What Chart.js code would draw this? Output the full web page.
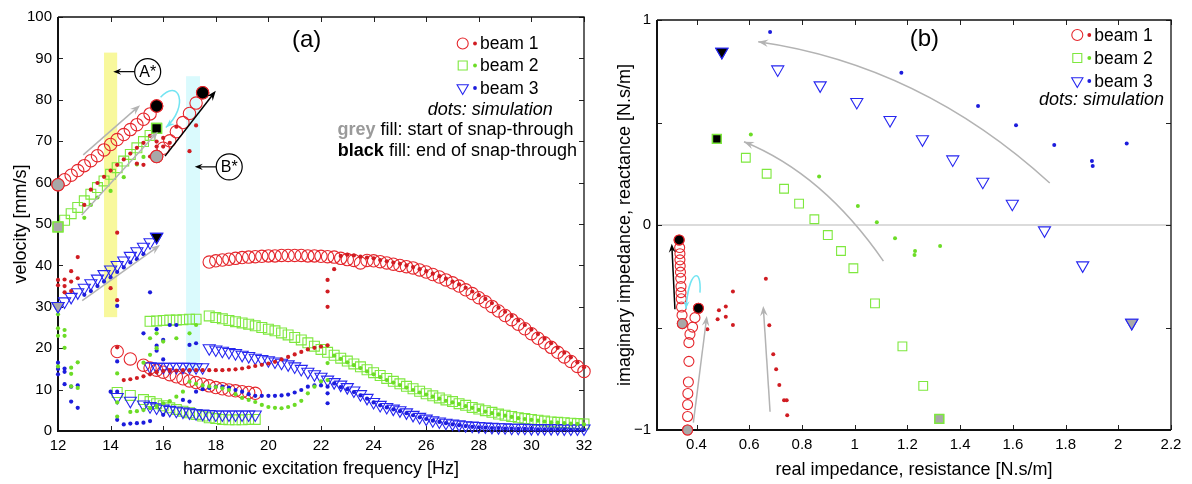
<!DOCTYPE html>
<html>
<head>
<meta charset="utf-8">
<script src="https://cdn.jsdelivr.net/npm/chart.js@4.4.1/dist/chart.umd.min.js"></script>
<style>
  body { margin: 0; background: #fff; }
  #wrap { position: relative; width: 1192px; height: 484px; }
  canvas { position: absolute; top: 0; }
</style>
</head>
<body>
<div id="wrap">
  <canvas id="chartA" width="600" height="484" style="left:0"></canvas>
  <canvas id="chartB" width="592" height="484" style="left:600px"></canvas>
</div>
<script>
// ---------- panel (a): velocity vs frequency ----------
const xTicksA = [12, 14, 16, 18, 20, 22, 24, 26, 28, 30, 32];
const yTicksA = [0, 10, 20, 30, 40, 50, 60, 70, 80, 90, 100];

// beam 1, measured (open circles)
const b1Freq = [12, 12.25, 12.5, 12.75, 13, 13.25, 13.5, 13.75, 14, 14.25, 14.5, 14.75, 15, 15.25, 15.5, 15.75,
  15.75, 16, 16.25, 16.5, 16.75, 17, 17.25, 17.5,
  14.25, 14.75, 15.25, 15.5, 15.75, 16, 16.25, 16.5, 16.75, 17, 17.25, 17.5, 17.75, 18, 18.25, 18.5, 18.75, 19, 19.25, 19.5,
  17.75, 18, 18.25, 18.5, 18.75, 19, 19.25, 19.5, 19.75, 20, 20.25, 20.5, 20.75, 21, 21.25, 21.5, 21.75, 22, 22.25, 22.5,
  22.75, 23, 23.25, 23.5, 23.75, 24, 24.25, 24.5, 24.75, 25, 25.25, 25.5, 25.75, 26, 26.25, 26.5, 26.75, 27,
  27.25, 27.5, 27.75, 28, 28.25, 28.5, 28.75, 29, 29.25, 29.5, 29.75, 30, 30.25, 30.5, 30.75, 31, 31.25, 31.5, 31.75, 32];
const b1Vel = [59.5, 60.7, 61.8, 62.9, 64.1, 65.3, 66.5, 67.9, 69.2, 70.4, 71.6, 72.8, 74.0, 75.3, 76.6, 78.5,
  66.3, 68.3, 70.1, 72.3, 74.5, 76.7, 79.2, 81.7,
  19.2, 17.4, 15.9, 15.2, 14.7, 14.2, 13.6, 13.1, 12.6, 12.1, 11.7, 11.3, 10.9, 10.5, 10.2, 9.9, 9.7, 9.5, 9.3, 9.1,
  40.8, 41.1, 41.3, 41.5, 41.7, 41.9, 42.0, 42.1, 42.2, 42.3, 42.3, 42.4, 42.4, 42.4, 42.4, 42.3, 42.3, 42.2, 42.1, 42.0,
  41.7, 41.4, 41.2, 40.6, 41.2, 41.1, 40.9, 40.6, 40.3, 40.0, 39.7, 39.4, 38.9, 38.4, 37.8, 37.2, 36.5, 35.8,
  35.0, 34.1, 33.2, 32.2, 31.2, 30.1, 29.0, 27.9, 26.9, 25.8, 24.7, 23.5, 22.4, 21.3, 20.2, 19.0, 17.9, 16.8, 15.6, 14.4];

// beam 2, measured (open squares)
const b2Freq = [12, 12.25, 12.5, 12.75, 13, 13.25, 13.5, 13.75, 14, 14.25, 14.5, 14.75, 15, 15.25, 15.5, 15.75,
  15.5, 15.75, 16, 16.25, 16.5, 16.75, 17, 17.25, 17.75, 18, 18.25, 18.5, 18.75, 19, 19.25, 19.5, 19.75, 20,
  20.25, 20.5, 20.75, 21, 21.25, 21.5, 21.75, 22, 22.25, 22.5, 22.75, 23, 23.25, 23.5, 23.75, 24, 24.25, 24.5,
  24.75, 25, 25.25, 25.5, 25.75, 26, 26.25, 26.5, 26.75, 27, 27.25, 27.5, 27.75, 28, 28.25, 28.5, 28.75, 29,
  29.25, 29.5, 29.75, 30, 30.25, 30.5, 30.75, 31, 31.25, 31.5, 31.75, 32,
  14.25, 14.75, 15.25, 15.5, 15.75, 16, 16.25, 16.5, 16.75, 17, 17.25, 17.5, 17.75, 18, 18.25, 18.5, 18.75, 19, 19.25, 19.5];
const b2Vel = [49.3, 50.9, 52.5, 54.0, 55.6, 57.2, 58.8, 60.4, 62.0, 63.6, 65.2, 66.8, 68.4, 69.9, 71.4, 73.1,
  26.5, 26.6, 26.7, 26.8, 26.8, 26.9, 27.0, 27.0, 27.8, 27.4, 27.1, 26.7, 26.4, 26.1, 25.8, 25.4, 25.0, 24.6,
  24.2, 23.7, 23.2, 22.6, 22.0, 21.3, 20.5, 19.7, 19.0, 18.3, 17.6, 16.9, 16.2, 15.5, 14.8, 14.1, 13.4, 12.7,
  12.0, 11.4, 10.8, 10.2, 9.6, 9.0, 8.5, 8.0, 7.5, 7.1, 6.6, 6.2, 5.7, 5.3, 4.9, 4.5, 4.1, 3.8,
  3.5, 3.2, 3.0, 2.8, 2.6, 2.4, 2.2, 2.1, 2.0, 1.9, 1.8, 1.7,
  9.3, 8.6, 7.6, 7.1, 6.6, 6.1, 5.6, 5.2, 4.8, 4.4, 4.0, 3.6, 3.2, 3.0, 2.8, 2.7, 2.7, 2.7, 2.8, 2.8];

// beam 3, measured (open triangles)
const b3Freq = [12, 12.25, 12.5, 12.75, 13, 13.25, 13.5, 13.75, 14, 14.25, 14.5, 14.75, 15, 15.25, 15.5, 15.75,
  15.5, 15.75, 16, 16.25, 16.5, 16.75, 17, 17.25, 17.5,
  17.75, 18, 18.25, 18.5, 18.75, 19, 19.25, 19.5, 19.75, 20, 20.25, 20.5, 20.75, 21, 21.25, 21.5, 21.75, 22,
  22.25, 22.5, 22.75, 23, 23.25, 23.5, 23.75, 24, 24.25, 24.5, 24.75, 25, 25.25, 25.5, 25.75, 26, 26.25, 26.5,
  26.75, 27, 27.25, 27.5, 27.75, 28, 28.25, 28.5, 28.75, 29, 29.25, 29.5, 29.75, 30, 30.25, 30.5, 30.75, 31,
  31.25, 31.5, 31.75, 32,
  14.25, 14.75, 15.25, 15.5, 15.75, 16, 16.25, 16.5, 16.75, 17, 17.25, 17.5, 17.75, 18, 18.25, 18.5, 18.75, 19, 19.25, 19.5];
const b3Vel = [30.2, 31.3, 32.4, 33.5, 34.6, 35.7, 36.8, 37.9, 39.0, 40.1, 41.2, 42.3, 43.4, 44.5, 45.6, 46.9,
  15.6, 15.5, 15.5, 15.5, 15.5, 15.5, 15.5, 15.4, 15.4,
  20.0, 19.7, 19.4, 19.1, 18.8, 18.4, 18.1, 17.7, 17.4, 17.1, 16.8, 16.5, 16.1, 15.6, 15.0, 14.3, 13.7, 13.1,
  12.4, 11.8, 11.2, 10.6, 9.8, 8.9, 8.0, 7.0, 6.3, 5.8, 5.4, 5.0, 4.5, 3.9, 3.4, 3.0, 2.6, 2.3,
  2.0, 1.8, 1.6, 1.4, 1.3, 1.2, 1.1, 1.0, 0.9, 0.9, 0.8, 0.8, 0.8, 0.7, 0.7, 0.7, 0.7, 0.7,
  0.6, 0.6, 0.6, 0.6,
  8.2, 7.3, 6.4, 6.0, 5.7, 5.4, 5.1, 4.9, 4.7, 4.5, 4.3, 4.2, 4.1, 4.0, 4.0, 4.0, 4.0, 4.0, 4.0, 4.0];

// snap-through markers (grey = start, black = end)
const b1StartF = [12, 15.75], b1StartV = [59.5, 66.3];
const b1EndF = [15.75, 17.5], b1EndV = [78.5, 81.7];
const b2StartF = [12], b2StartV = [49.3];
const b2EndF = [15.75], b2EndV = [73.1];
const b3StartF = [12], b3StartV = [30.2];
const b3EndF = [15.75], b3EndV = [46.9];

// simulation dots
const s1Freq = [12, 12, 12.25, 12.25, 12.25, 12.5, 12.5, 12.5, 12.75, 12.75,
  13, 13.25, 13.5, 13.75, 14, 14.25, 14.5, 14.75, 15, 15.25, 15.5,
  15, 15.25, 15.5, 15.75, 15.75, 15.75, 15.75, 16, 16, 16.25, 16.5, 17, 17.25,
  14.25, 14, 14.25, 14.25,
  14.5, 14.75, 15, 15.25, 15.5, 15.75, 16, 16.25, 16.5, 16.75, 17, 17.25, 17.5, 17.75, 18, 18.25, 18.5, 18.75,
  19, 19.25, 19.5, 19.75, 20, 20.25, 20.5, 20.75, 21, 21.25, 21.5, 21.75, 22, 22.25,
  22.25, 22.25, 22.25, 22.5,
  22.75, 23, 23.25, 23.5, 23.75, 24, 24.25, 24.5, 24.75, 25, 25.25, 25.5, 25.75, 26, 26.25, 26.5, 26.75, 27,
  27.25, 27.5, 27.75, 28, 28.25, 28.5, 28.75, 29, 29.25, 29.5, 29.75, 30, 30.25, 30.5, 30.75, 31, 31.25, 31.5, 31.75, 32];
const s1Vel = [36.5, 35.2, 36.6, 35.0, 33.5, 38.6, 36.1, 33.8, 42.0, 36.9,
  54.6, 58.3, 59.9, 61.4, 62.9, 64.3, 65.6, 67.0, 68.4, 69.6, 71.3,
  64.6, 64.3, 66.3, 69.9, 68.7, 67.5, 65.3, 70.8, 68.7, 69.6, 73.5, 67.6, 73.8,
  47.9, 34.5, 31.6, 20.2,
  12.3, 12.5, 12.8, 13.2, 13.7, 14.2, 14.5, 14.5, 14.6, 14.7, 14.7, 14.7, 14.7, 14.7, 14.7, 14.7, 14.8, 14.9,
  15.1, 15.4, 15.7, 16.0, 16.3, 16.7, 17.3, 17.9, 18.5, 19.1, 19.7, 20.1, 20.4, 20.7,
  30.0, 33.7, 36.5, 39.1,
  42.3, 42.6, 42.4, 42.1, 41.9, 41.7, 41.3, 41.0, 40.7, 40.4, 40.0, 39.6, 39.1, 38.6, 38.0, 37.4, 36.8, 36.1,
  35.4, 34.6, 33.7, 32.8, 31.9, 30.9, 29.8, 28.8, 27.8, 26.7, 25.6, 24.5, 23.4, 22.3, 21.2, 20.1, 18.9, 17.8, 16.6, 15.4];

const s2Freq = [12, 12, 12, 12, 12.25, 12.25, 12.25, 12.5, 12.5, 12.5, 12.75, 12.75,
  13, 13.25, 13.5, 14, 14.5, 15, 15.25,
  14.25, 14.25, 14.25, 15.25, 15.5, 15.5, 15.75, 15.75, 16, 16.5, 17, 17.25,
  14.75, 15, 15.25, 15.5, 15.75, 16, 16.25, 16.5, 16.75, 17, 17.25, 17.5, 17.75, 18, 18.25, 18.5, 18.75,
  19, 19.25, 19.5, 19.75, 20, 20.25, 20.5, 20.75, 21, 21.25, 21.5, 21.75, 22, 22.25, 22.25,
  22.5, 22.75, 23, 23.25, 23.5, 23.75, 24, 24.25, 24.5, 24.75, 25, 25.25, 25.5, 25.75, 26, 26.25, 26.5, 26.75, 27,
  27.25, 27.5, 27.75, 28, 28.25, 28.5, 28.75, 29, 29.25, 29.5, 29.75, 30, 30.25, 30.5, 30.75, 31, 31.25, 31.5, 31.75, 32];
const s2Vel = [28.2, 24.8, 23.0, 15.6, 24.4, 23.0, 20.1, 15.3, 13.8, 10.8, 16.6, 10.4,
  51.5, 54.6, 56.4, 58.0, 61.3, 64.4, 66.2,
  13.9, 6.9, 3.5, 16.5, 22.4, 18.4, 23.6, 20.0, 21.6, 22.4, 23.6, 25.6,
  4.6, 4.8, 5.1, 5.5, 6.0, 6.7, 7.2, 8.3, 9.5, 11.9, 11.4, 11.0, 10.8, 10.6, 10.3, 9.9, 8.9,
  8.0, 7.5, 7.0, 6.3, 5.8, 5.6, 5.5, 5.8, 6.3, 7.3, 9.1, 10.7, 12.0, 12.3, 16.4,
  18.2, 17.4, 16.6, 15.9, 15.2, 14.4, 13.7, 13.0, 12.3, 11.7, 11.1, 10.5, 9.9, 9.3, 8.8, 8.3, 7.8, 7.3, 6.9,
  6.5, 6.0, 5.6, 5.1, 4.7, 4.3, 4.0, 3.7, 3.4, 3.1, 2.9, 2.7, 2.5, 2.3, 2.1, 2.0, 1.9, 1.8, 1.7, 1.6];

const s3Freq = [12, 12, 12, 12.25, 12.25, 12.25, 12.5, 12.5, 12.75, 12.75,
  13, 13.25, 13.5, 13.75, 14, 14.25, 14.5, 14.75, 15, 15.25,
  14.25, 14.25, 14.25, 14, 14.25, 14.5, 14.75, 15, 15.25, 15.5,
  15.5, 15.25, 15.75, 15.75, 15.75, 16, 16, 16.25, 16.5, 17, 17.25,
  16, 16.75, 17, 17.25, 17.5, 17.75, 18, 18.25, 18.5, 18.75, 19, 19.25, 19.5, 19.75, 20, 20.25, 20.5, 20.75,
  21, 21.25, 21.5, 21.75, 22, 22.25, 22.25, 22.25, 22.5,
  22.75, 23, 23.25, 23.5, 23.75, 24, 24.25, 24.5, 24.75, 25, 25.25, 25.5, 25.75, 26, 26.25, 26.5, 26.75, 27,
  27.25, 27.5, 27.75, 28, 28.25, 28.5, 28.75, 29, 29.25, 29.5, 29.75, 30, 30.25, 30.5, 30.75, 31, 31.25, 31.5, 31.75, 32];
const s3Vel = [16.5, 15.0, 13.7, 15.1, 14.3, 11.3, 10.7, 7.1, 11.0, 5.6,
  32.9, 33.8, 35.0, 36.1, 37.1, 38.4, 39.5, 40.7, 41.5, 42.7,
  30.2, 16.8, 9.5, 9.5, 2.7, 1.6, 1.8, 1.9, 2.0, 2.4,
  33.5, 23.6, 24.6, 20.6, 19.4, 22.0, 17.3, 25.6, 25.6, 20.8, 21.2,
  3.9, 7.5, 7.1, 9.5, 10.1, 10.4, 10.7, 10.7, 10.5, 9.9, 9.5, 8.9, 8.5, 8.5, 8.5, 8.5, 8.6, 8.8,
  9.3, 9.9, 10.7, 11.0, 11.0, 10.7, 9.1, 6.7, 11.5,
  10.6, 10.1, 9.4, 8.6, 7.8, 6.9, 6.2, 5.7, 5.2, 4.8, 4.3, 3.8, 3.3, 2.9, 2.5, 2.2, 1.9, 1.6,
  1.4, 1.2, 1.0, 0.9, 0.8, 0.7, 0.7, 0.6, 0.6, 0.5, 0.5, 0.5, 0.4, 0.4, 0.4, 0.4, 0.4, 0.3, 0.3, 0.3];

// ---------- panel (b): impedance plane ----------
const xTicksB = [0.4, 0.6, 0.8, 1, 1.2, 1.4, 1.6, 1.8, 2, 2.2];
const yLabelsB = [-1, 0, 1];
const yTicksB = [-1, -0.5, 0, 0.5, 1];

const z1Re = [0.334, 0.336, 0.337, 0.337, 0.338, 0.339, 0.340, 0.341, 0.341, 0.342, 0.343, 0.345, 0.346,
  0.407, 0.394, 0.385, 0.375, 0.371, 0.371, 0.369, 0.367, 0.366, 0.366, 0.366];
const z1Im = [-0.073, -0.11, -0.14, -0.17, -0.20, -0.23, -0.26, -0.30, -0.33, -0.36, -0.40, -0.44, -0.481,
  -0.406, -0.452, -0.498, -0.533, -0.574, -0.665, -0.766, -0.822, -0.876, -0.934, -1.0];
const z2Re = [0.477, 0.587, 0.666, 0.732, 0.789, 0.847, 0.898, 0.948, 0.995, 1.077, 1.181, 1.26, 1.321];
const z2Im = [0.42, 0.328, 0.25, 0.177, 0.104, 0.028, -0.049, -0.127, -0.211, -0.382, -0.592, -0.785, -0.946];
const z3Re = [0.496, 0.708, 0.869, 1.008, 1.134, 1.257, 1.372, 1.486, 1.598, 1.72, 1.865, 2.051];
const z3Im = [0.845, 0.759, 0.681, 0.6, 0.512, 0.418, 0.32, 0.211, 0.104, -0.026, -0.197, -0.477];

const z1StartRe = [0.346, 0.366], z1StartIm = [-0.481, -1.0];
const z1EndRe = [0.334, 0.407], z1EndIm = [-0.073, -0.406];
const z2StartRe = [1.321], z2StartIm = [-0.946];
const z2EndRe = [0.477], z2EndIm = [0.42];
const z3StartRe = [2.051], z3StartIm = [-0.477];
const z3EndRe = [0.496], z3EndIm = [0.845];

const zs1Re = [0.441, 0.480, 0.485, 0.511, 0.511, 0.538, 0.538, 0.663, 0.676, 0.691, 0.702, 0.714, 0.732, 0.742, 0.744];
const zs1Im = [-0.509, -0.46, -0.416, -0.398, -0.447, -0.324, -0.488, -0.262, -0.489, -0.631, -0.704, -0.78, -0.855, -0.855, -0.928];
const zs2Re = [0.606, 0.865, 1.012, 1.084, 1.153, 1.229, 1.227, 1.324];
const zs2Im = [0.442, 0.236, 0.093, 0.013, -0.065, -0.127, -0.146, -0.102];
const zs3Re = [0.679, 1.177, 1.468, 1.612, 1.757, 1.9, 1.903, 2.032];
const zs3Im = [0.941, 0.743, 0.58, 0.486, 0.39, 0.312, 0.288, 0.397];

// ---------- styling ----------
const FONT = "'Liberation Sans', Arial, Helvetica, sans-serif";
const RED = '#e5262c', RED_DOT = '#d01c22';
const GREEN = '#7ee83e', GREEN_DOT = '#6cdc26';
const BLUE = '#2626f0', BLUE_DOT = '#1c1cdc';
const GREY = '#a8a8a8';
const ARROW_GREY = '#b3b3b3';
const CYAN = '#72e4f2';

Chart.defaults.font.family = FONT;
Chart.defaults.color = '#000';

function pts(xs, ys) {
    return xs.map((x, i) => ({ x: x, y: ys[i] }));
}

function markers(xs, ys, style, r, stroke, fill, rot, bw) {
    return {
        data: pts(xs, ys),
        pointStyle: style,
        pointRadius: r,
        pointBorderColor: stroke,
        pointBackgroundColor: fill,
        pointBorderWidth: bw === undefined ? 1.1 : bw,
        pointRotation: rot || 0,
        showLine: false,
        clip: false
    };
}

function arrowHead(ctx, x, y, a, len, color) {
    ctx.fillStyle = color;
    ctx.beginPath();
    ctx.moveTo(x, y);
    ctx.lineTo(x - len * Math.cos(a) + len * 0.38 * Math.sin(a), y - len * Math.sin(a) - len * 0.38 * Math.cos(a));
    ctx.lineTo(x - len * 0.65 * Math.cos(a), y - len * 0.65 * Math.sin(a));
    ctx.lineTo(x - len * Math.cos(a) - len * 0.38 * Math.sin(a), y - len * Math.sin(a) + len * 0.38 * Math.cos(a));
    ctx.closePath();
    ctx.fill();
}

function arrow(ctx, x1, y1, x2, y2, color, lw, head) {
    const a = Math.atan2(y2 - y1, x2 - x1);
    ctx.strokeStyle = color;
    ctx.lineWidth = lw;
    ctx.beginPath();
    ctx.moveTo(x1, y1);
    ctx.lineTo(x2 - Math.cos(a) * head * 0.6, y2 - Math.sin(a) * head * 0.6);
    ctx.stroke();
    arrowHead(ctx, x2, y2, a, head, color);
}

function curveArrow(ctx, p, color, lw, head) {
    // p: pixel points [start, c1, c2, end] (cubic) or [start, c, end] (quadratic)
    ctx.strokeStyle = color;
    ctx.lineWidth = lw;
    ctx.beginPath();
    ctx.moveTo(p[0][0], p[0][1]);
    let prev;
    if (p.length === 4) {
        ctx.bezierCurveTo(p[1][0], p[1][1], p[2][0], p[2][1], p[3][0], p[3][1]);
        prev = p[2];
    } else {
        ctx.quadraticCurveTo(p[1][0], p[1][1], p[2][0], p[2][1]);
        prev = p[1];
    }
    ctx.stroke();
    const end = p[p.length - 1];
    arrowHead(ctx, end[0], end[1], Math.atan2(end[1] - prev[1], end[0] - prev[0]), head, color);
}

function drawMarker(ctx, style, x, y, r, stroke, fill) {
    ctx.strokeStyle = stroke;
    ctx.fillStyle = fill;
    ctx.lineWidth = 1.1;
    ctx.beginPath();
    if (style === 'circle') {
        ctx.arc(x, y, r, 0, Math.PI * 2);
    } else if (style === 'rect') {
        ctx.rect(x - r, y - r, 2 * r, 2 * r);
    } else {
        const h = r * Math.sin(Math.PI / 3);
        ctx.moveTo(x, y + r);
        ctx.lineTo(x - h, y - r / 2);
        ctx.lineTo(x + h, y - r / 2);
        ctx.closePath();
    }
    if (fill !== 'transparent') ctx.fill();
    ctx.stroke();
}

function drawFrame(chart, xt, yt) {
    const { ctx, chartArea: a, scales: { x, y } } = chart;
    ctx.save();
    ctx.strokeStyle = '#222';
    ctx.lineWidth = 1;
    ctx.beginPath();
    xt.forEach(v => {
        const px = Math.round(x.getPixelForValue(v)) + 0.5;
        ctx.moveTo(px, a.bottom); ctx.lineTo(px, a.bottom - 5);
        ctx.moveTo(px, a.top); ctx.lineTo(px, a.top + 5);
    });
    yt.forEach(v => {
        const py = Math.round(y.getPixelForValue(v)) + 0.5;
        ctx.moveTo(a.left, py); ctx.lineTo(a.left + 5, py);
        ctx.moveTo(a.right, py); ctx.lineTo(a.right - 5, py);
    });
    ctx.stroke();
    ctx.strokeStyle = '#111';
    ctx.lineWidth = 1.3;
    ctx.beginPath();
    ctx.moveTo(a.left, a.top); ctx.lineTo(a.right, a.top); ctx.lineTo(a.right, a.bottom);
    ctx.stroke();
    ctx.lineWidth = 2;
    ctx.beginPath();
    ctx.moveTo(a.left, a.top); ctx.lineTo(a.left, a.bottom); ctx.lineTo(a.right, a.bottom);
    ctx.stroke();
    ctx.restore();
}

function legend(ctx, rows, mx, dx, tx) {
    ctx.font = '17.5px ' + FONT;
    ctx.textBaseline = 'middle';
    ctx.textAlign = 'left';
    rows.forEach(r => {
        drawMarker(ctx, r.style, mx, r.y, r.size, r.color, 'transparent');
        ctx.fillStyle = r.dot;
        ctx.beginPath();
        ctx.arc(dx, r.y, 1.9, 0, Math.PI * 2);
        ctx.fill();
        ctx.fillStyle = '#000';
        ctx.fillText(r.text, tx, r.y + 1);
    });
}

function labelCircle(ctx, cx, cy, text, tipX) {
    ctx.fillStyle = '#fff';
    ctx.strokeStyle = '#000';
    ctx.lineWidth = 1.2;
    ctx.beginPath();
    ctx.arc(cx, cy, 13, 0, Math.PI * 2);
    ctx.fill();
    ctx.stroke();
    ctx.fillStyle = '#000';
    ctx.font = '16px ' + FONT;
    ctx.textAlign = 'center';
    ctx.textBaseline = 'middle';
    ctx.fillText(text, cx, cy + 1);
    arrow(ctx, cx - 13, cy, tipX, cy, '#000', 1.2, 8);
}

function axisStyle(min, max, tickVals, fit, title, titlePad, isX) {
    return {
        type: 'linear',
        min: min,
        max: max,
        afterBuildTicks: s => { s.ticks = tickVals.map(v => ({ value: v })); },
        afterFit: s => { if (isX) { s.height = fit; } else { s.width = fit; } },
        grid: { display: false, drawTicks: false },
        border: { display: false },
        ticks: {
            color: '#000',
            font: { size: 15 },
            padding: 6,
            maxRotation: 0,
            autoSkip: false,
            callback: v => (v < 0 ? '\u2212' : '') + String(+Math.abs(v).toFixed(1))
        },
        title: { display: true, text: title, color: '#000', font: { size: 18 }, padding: titlePad }
    };
}

// ---------- panel (a) ----------
const panelA = {
    id: 'panelA',
    beforeDatasetsDraw(chart) {
        const { ctx, scales: { x, y } } = chart;
        ctx.save();
        ctx.fillStyle = '#f8f89c';
        ctx.fillRect(x.getPixelForValue(13.75), y.getPixelForValue(91.4),
            x.getPixelForValue(14.25) - x.getPixelForValue(13.75), y.getPixelForValue(27.5) - y.getPixelForValue(91.4));
        ctx.fillStyle = '#dafafd';
        ctx.fillRect(x.getPixelForValue(16.87), y.getPixelForValue(85.7),
            x.getPixelForValue(17.4) - x.getPixelForValue(16.87), y.getPixelForValue(14.3) - y.getPixelForValue(85.7));
        ctx.restore();
        drawFrame(chart, xTicksA, yTicksA);
    },
    afterDatasetsDraw(chart) {
        const { ctx, scales: { x, y } } = chart;
        const X = v => x.getPixelForValue(v), Y = v => y.getPixelForValue(v);
        ctx.save();
        arrow(ctx, X(12.96), Y(66.7), X(15.12), Y(78.7), ARROW_GREY, 1.5, 10);
        arrow(ctx, X(12.9), Y(52.2), X(15.8), Y(72.3), ARROW_GREY, 1.5, 10);
        arrow(ctx, X(12.92), Y(31.5), X(15.88), Y(44.9), ARROW_GREY, 1.5, 10);
        arrow(ctx, X(16.07), Y(66.4), X(18.0), Y(82.2), '#000', 1.5, 10);
        curveArrow(ctx, [[X(15.9), Y(80.6)], [X(16.6), Y(85.5)], [X(17.0), Y(78.5)], [X(16.1), Y(73.3)]], CYAN, 1.5, 9);
        labelCircle(ctx, X(15.41), Y(86.8), 'A*', X(14.1));
        labelCircle(ctx, X(18.51), Y(63.8), 'B*', X(17.2));

        ctx.fillStyle = '#000';
        ctx.font = '24px ' + FONT;
        ctx.textAlign = 'center';
        ctx.textBaseline = 'middle';
        ctx.fillText('(a)', 306.7, 40);

        legend(ctx, [
            { style: 'circle', size: 5.5, color: RED, dot: RED_DOT, text: 'beam 1', y: 43.5 },
            { style: 'rect', size: 4.5, color: GREEN, dot: GREEN_DOT, text: 'beam 2', y: 65.5 },
            { style: 'triangle', size: 6.5, color: BLUE, dot: BLUE_DOT, text: 'beam 3', y: 88 }
        ], 462.7, 475, 480);

        ctx.font = 'italic 18px ' + FONT;
        ctx.textAlign = 'right';
        ctx.fillStyle = '#000';
        ctx.fillText('dots: simulation', 552.7, 110);

        ctx.textAlign = 'left';
        [['grey', '#9a9a9a', ' fill: start of snap-through', 573.5, 130.5],
         ['black', '#000', ' fill: end of snap-through', 577, 151.5]].forEach(l => {
            ctx.font = 'bold 18px ' + FONT;
            const wb = ctx.measureText(l[0]).width;
            ctx.font = '18px ' + FONT;
            const wr = ctx.measureText(l[2]).width;
            const x0 = l[3] - wb - wr;
            ctx.font = 'bold 18px ' + FONT;
            ctx.fillStyle = l[1];
            ctx.fillText(l[0], x0, l[4]);
            ctx.font = '18px ' + FONT;
            ctx.fillStyle = '#000';
            ctx.fillText(l[2], x0 + wb, l[4]);
        });
        ctx.restore();
    }
};

new Chart(document.getElementById('chartA'), {
    type: 'scatter',
    data: {
        datasets: [
            markers(b3EndF, b3EndV, 'triangle', 7, BLUE, '#000', 180),
            markers(b3StartF, b3StartV, 'triangle', 7, BLUE, GREY, 180),
            markers(b2EndF, b2EndV, 'rect', 7, GREEN, '#000', 0, 1.5),
            markers(b2StartF, b2StartV, 'rect', 7, GREEN, GREY, 0, 1.5),
            markers(b1EndF, b1EndV, 'circle', 6.2, RED, '#000'),
            markers(b1StartF, b1StartV, 'circle', 6.2, RED, GREY),
            markers(s1Freq, s1Vel, 'circle', 2.1, RED_DOT, RED_DOT, 0, 0),
            markers(s2Freq, s2Vel, 'circle', 2.1, GREEN_DOT, GREEN_DOT, 0, 0),
            markers(s3Freq, s3Vel, 'circle', 2.1, BLUE_DOT, BLUE_DOT, 0, 0),
            markers(b3Freq, b3Vel, 'triangle', 7, BLUE, 'transparent', 180),
            markers(b2Freq, b2Vel, 'rect', 7, GREEN, 'transparent'),
            markers(b1Freq, b1Vel, 'circle', 6.2, RED, 'transparent')
        ]
    },
    options: {
        responsive: false,
        animation: false,
        events: [],
        layout: { padding: { left: 0, right: 16, top: 17, bottom: 0 } },
        plugins: { legend: { display: false }, tooltip: { enabled: false } },
        scales: {
            x: axisStyle(12, 32, xTicksA, 53, 'harmonic excitation frequency [Hz]', { top: 0, bottom: 4 }, true),
            y: axisStyle(0, 100, yTicksA, 58, 'velocity [mm/s]', { top: 10, bottom: 0 }, false)
        }
    },
    plugins: [panelA]
});

// ---------- panel (b) ----------
const panelB = {
    id: 'panelB',
    beforeDatasetsDraw(chart) {
        const { ctx, chartArea: a, scales: { y } } = chart;
        ctx.save();
        ctx.strokeStyle = '#cfcfcf';
        ctx.lineWidth = 1.5;
        ctx.beginPath();
        ctx.moveTo(a.left, y.getPixelForValue(0));
        ctx.lineTo(a.right, y.getPixelForValue(0));
        ctx.stroke();
        ctx.restore();
        drawFrame(chart, xTicksB, yTicksB);
    },
    afterDatasetsDraw(chart) {
        const { ctx, scales: { x, y } } = chart;
        const P = (u, v) => [x.getPixelForValue(u), y.getPixelForValue(v)];
        ctx.save();
        curveArrow(ctx, [P(1.74, 0.205), P(1.25, 0.78), P(0.634, 0.894)], ARROW_GREY, 1.5, 10);
        curveArrow(ctx, [P(1.109, -0.176), P(0.88, 0.25), P(0.58, 0.406)], ARROW_GREY, 1.5, 10);
        const g1 = [P(0.388, -0.964), P(0.439, -0.444)];
        arrow(ctx, g1[0][0], g1[0][1], g1[1][0], g1[1][1], ARROW_GREY, 1.5, 10);
        const g2 = [P(0.679, -0.911), P(0.653, -0.395)];
        arrow(ctx, g2[0][0], g2[0][1], g2[1][0], g2[1][1], ARROW_GREY, 1.5, 10);
        const k = [P(0.318, -0.411), P(0.306, -0.091)];
        arrow(ctx, k[0][0], k[0][1], k[1][0], k[1][1], '#000', 1.5, 9);
        curveArrow(ctx, [P(0.413, -0.33), P(0.42, -0.2), P(0.37, -0.22), P(0.36, -0.41)], CYAN, 1.5, 8);

        ctx.fillStyle = '#000';
        ctx.font = '24px ' + FONT;
        ctx.textAlign = 'center';
        ctx.textBaseline = 'middle';
        ctx.fillText('(b)', 324.3, 39);

        legend(ctx, [
            { style: 'circle', size: 5.5, color: RED, dot: RED_DOT, text: 'beam 1', y: 35 },
            { style: 'rect', size: 4.5, color: GREEN, dot: GREEN_DOT, text: 'beam 2', y: 58 },
            { style: 'triangle', size: 6.5, color: BLUE, dot: BLUE_DOT, text: 'beam 3', y: 81 }
        ], 477.3, 489.3, 494.3);

        ctx.font = 'italic 18px ' + FONT;
        ctx.textAlign = 'right';
        ctx.fillStyle = '#000';
        ctx.fillText('dots: simulation', 564, 100);
        ctx.restore();
    }
};

new Chart(document.getElementById('chartB'), {
    type: 'scatter',
    data: {
        datasets: [
            markers(z3EndRe, z3EndIm, 'triangle', 7, BLUE, '#000', 180),
            markers(z3StartRe, z3StartIm, 'triangle', 7, BLUE, GREY, 180),
            markers(z2EndRe, z2EndIm, 'rect', 6.2, GREEN, '#000', 0, 1.5),
            markers(z2StartRe, z2StartIm, 'rect', 6.2, GREEN, GREY, 0, 1.5),
            markers(z1EndRe, z1EndIm, 'circle', 5, RED, '#000'),
            markers(z1StartRe, z1StartIm, 'circle', 5, RED, GREY),
            markers(zs1Re, zs1Im, 'circle', 2, RED_DOT, RED_DOT, 0, 0),
            markers(zs2Re, zs2Im, 'circle', 2, GREEN_DOT, GREEN_DOT, 0, 0),
            markers(zs3Re, zs3Im, 'circle', 2, BLUE_DOT, BLUE_DOT, 0, 0),
            markers(z3Re, z3Im, 'triangle', 7, BLUE, 'transparent', 180),
            markers(z2Re, z2Im, 'rect', 6.2, GREEN, 'transparent'),
            markers(z1Re, z1Im, 'circle', 5, RED, 'transparent')
        ]
    },
    options: {
        responsive: false,
        animation: false,
        events: [],
        layout: { padding: { left: 0, right: 21, top: 20, bottom: 0 } },
        plugins: { legend: { display: false }, tooltip: { enabled: false } },
        scales: {
            x: axisStyle(0.25, 2.2, xTicksB, 54, 'real impedance, resistance [N.s/m]', { top: 0, bottom: 3 }, true),
            y: axisStyle(-1, 1, yLabelsB, 57, 'imaginary impedance, reactance [N.s/m]', { top: 14, bottom: 0 }, false)
        }
    },
    plugins: [panelB]
});
</script>
</body>
</html>
